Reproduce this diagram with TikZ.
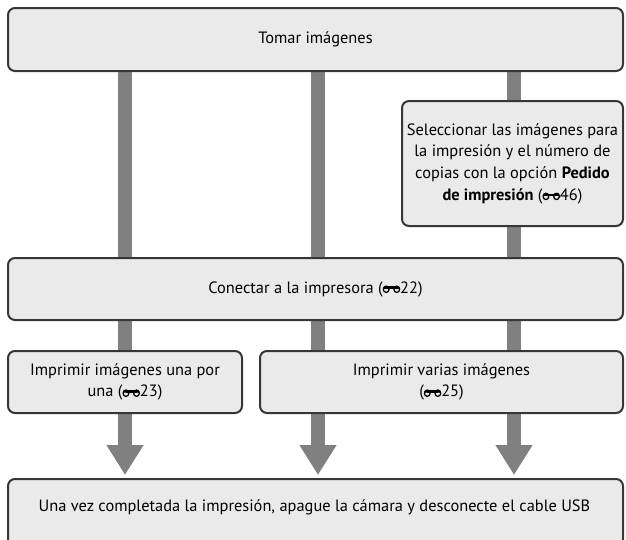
\documentclass[tikz,border=0pt]{standalone}
\usepackage{fontspec}
\setmainfont{PT Sans}
\usetikzlibrary{arrows.meta,backgrounds}
\definecolor{boxfill}{HTML}{EAEAEA}
\definecolor{boxline}{HTML}{363636}
\definecolor{barcol}{HTML}{808080}
\newsavebox\refbox
\AtBeginDocument{\sbox\refbox{\begin{pgfpicture}
\pgfsetlinewidth{1.25pt}
\pgfpathcircle{\pgfpoint{3.4pt}{3.3pt}}{2.8pt}\pgfusepath{stroke}
\pgfpathcircle{\pgfpoint{14pt}{3.3pt}}{2.8pt}\pgfusepath{stroke}
\pgfpathmoveto{\pgfpoint{0pt}{4.1pt}}
\pgfpatharc{180}{0}{3.4pt}
\pgfpathclose
\pgfusepath{fill}
\pgfpathmoveto{\pgfpoint{10.6pt}{4.1pt}}
\pgfpatharc{180}{0}{3.4pt}
\pgfpathclose
\pgfusepath{fill}
\pgfpathrectangle{\pgfpoint{3.4pt}{3.9pt}}{\pgfpoint{10.6pt}{2.6pt}}\pgfusepath{fill}
\end{pgfpicture}}}
\newcommand{\refsym}{\usebox\refbox}
\begin{document}
\begin{tikzpicture}[x=1pt,y=-1pt,
  txt/.style={font=\fontsize{16.4}{21.7}\selectfont},
  box/.style={txt, draw=boxline, fill=boxfill, line width=2pt, rounded corners=7pt,
    anchor=north west, inner sep=0pt, align=center},
  flowarrow/.style={barcol, line width=14pt, -{Triangle[width=35pt,length=30pt]}, shorten >=3pt}
]
\useasboundingbox (0,0) rectangle (626,539);
\coordinate (c1) at (125,0);
\coordinate (c2) at (318,0);
\coordinate (c3) at (514,0);
\path (7,7) node[box, minimum width=615pt, minimum height=63pt] (top) {Tomar imágenes};
\path (7,478) node[box, minimum width=615pt, minimum height=67pt] (bot) {};
\node[txt] (bottxt) at (314.5,507.5) {Una vez completada la impresión, apague la cámara y desconecte el cable USB};
\path (401,100) node[box, minimum width=221pt, minimum height=125pt] (sel)
  {Seleccionar las imágenes para\\la impresión y el número de\\copias con la opción \textbf{Pedido}\\\textbf{de impresión} (\refsym46)};
\path (7,257) node[box, minimum width=615pt, minimum height=62pt] (con) {Conectar a la impresora (\refsym22)};
\path (7,350) node[box, minimum width=234pt, minimum height=62pt] (una) {Imprimir imágenes una por\\una (\refsym23)};
\path (259,350) node[box, minimum width=363pt, minimum height=62pt] (var) {Imprimir varias imágenes\\(\refsym25)};
\begin{scope}[on background layer]
\draw[flowarrow] (top.south -| c1) -- (bot.north -| c1);
\draw[flowarrow] (top.south -| c2) -- (bot.north -| c2);
\draw[flowarrow] (top.south -| c3) -- (bot.north -| c3);
\end{scope}
\end{tikzpicture}
\end{document}
